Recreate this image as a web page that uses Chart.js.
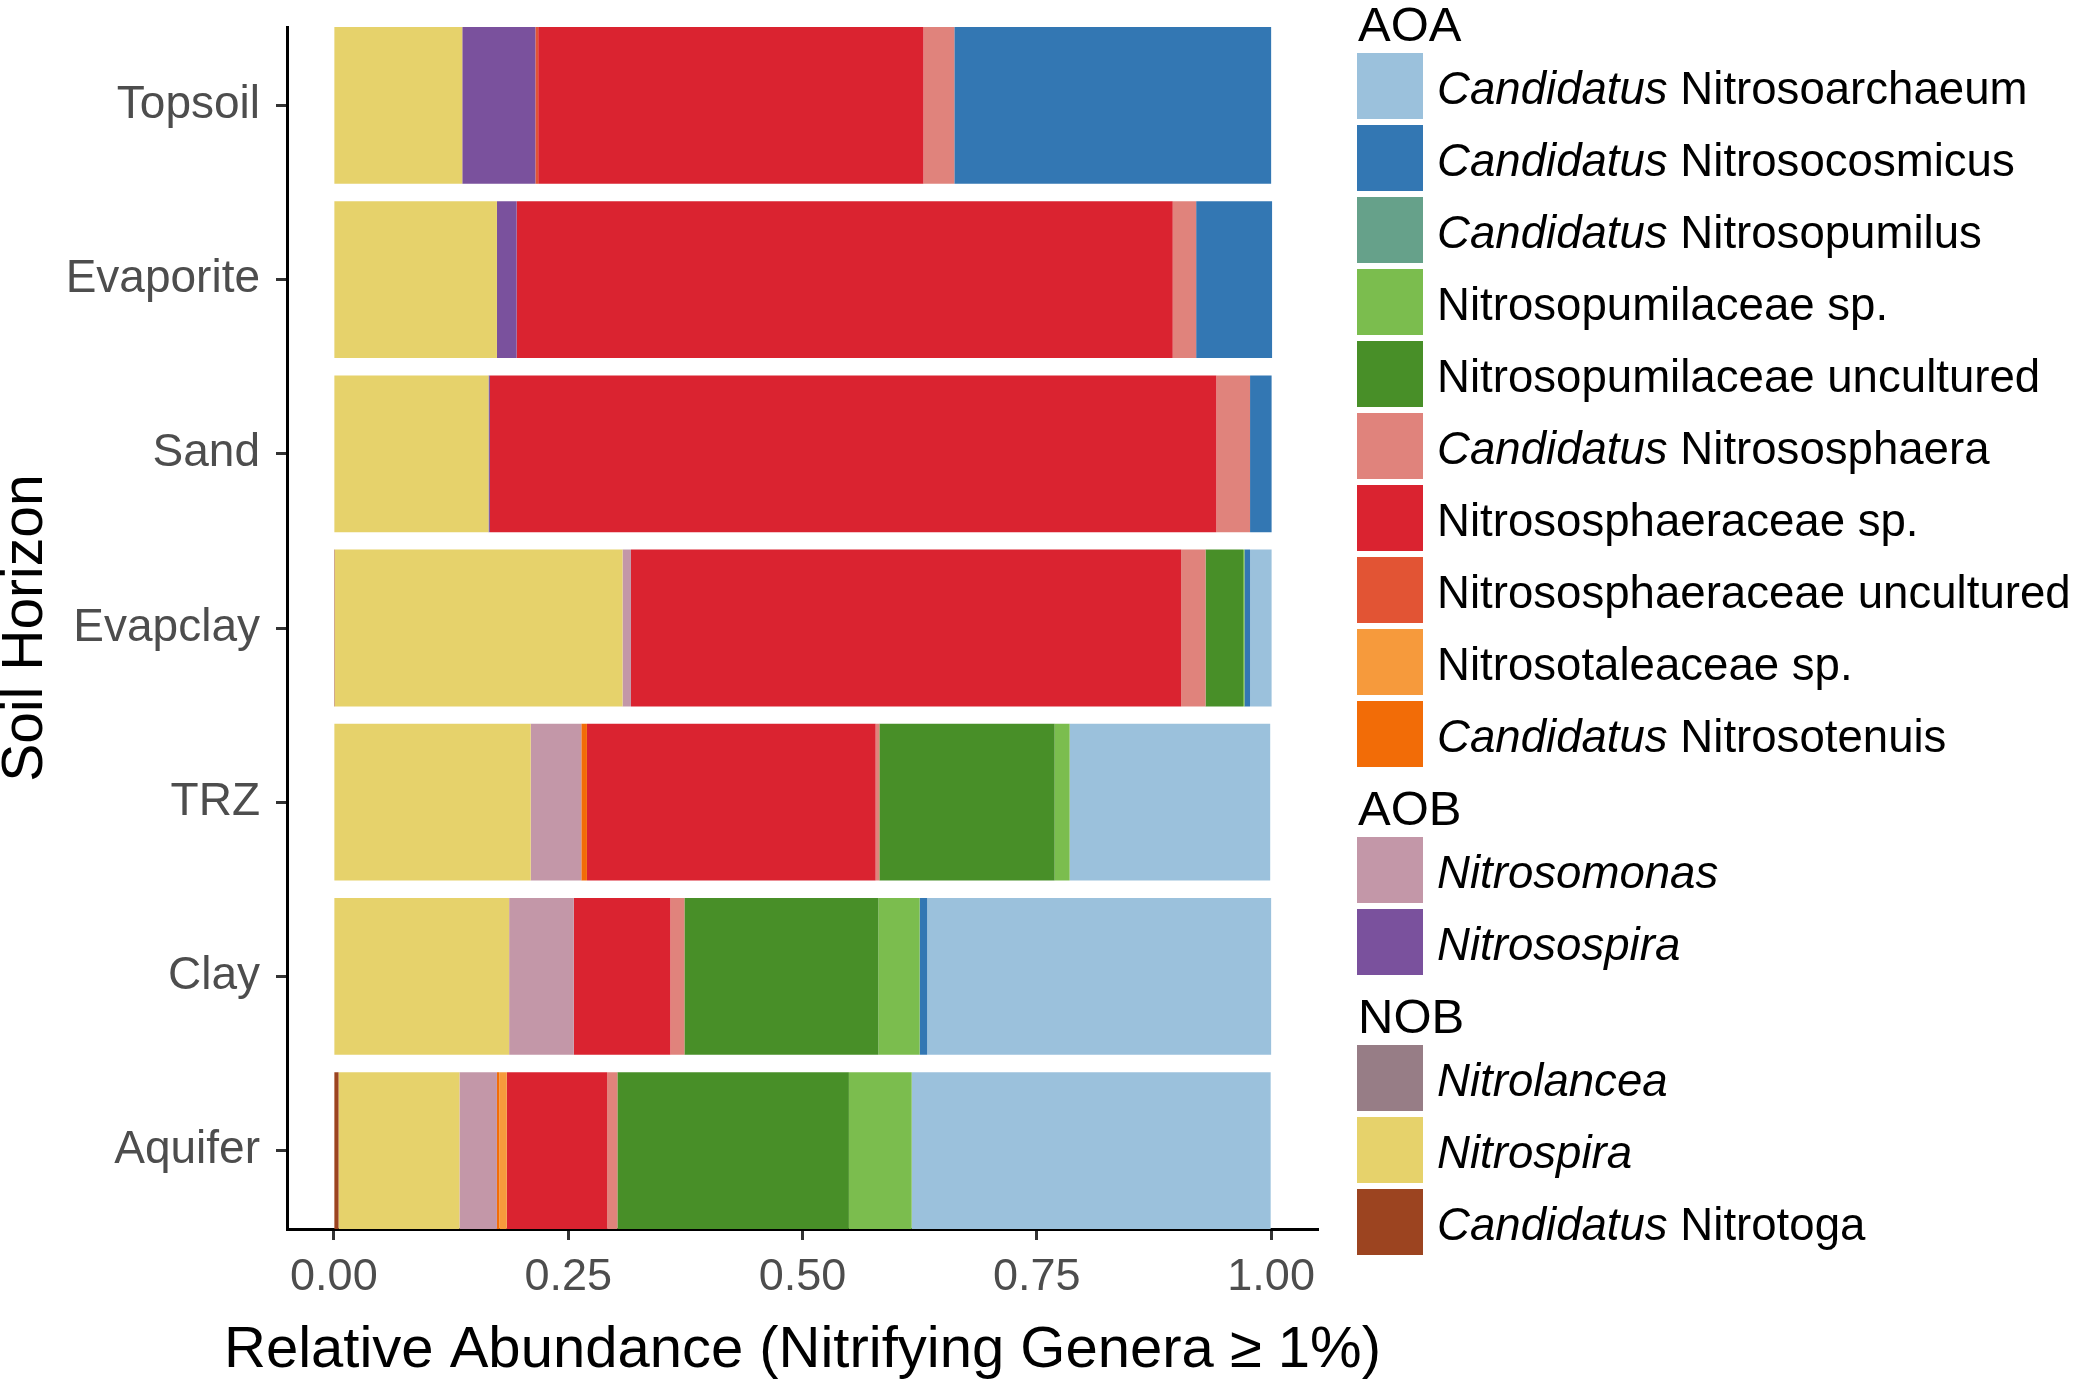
<!DOCTYPE html>
<html>
<head>
<meta charset="utf-8">
<script src="https://cdn.jsdelivr.net/npm/chart.js@4.4.1/dist/chart.umd.min.js"></script>
<style>
  html, body { margin: 0; padding: 0; background: #fff; }
  #wrap { position: relative; width: 2073px; height: 1384px; overflow: hidden; }
  #chart { position: absolute; left: 0; top: 0; }
  #legend { position: absolute; left: 0; top: 0; font-family: 'Liberation Sans', Arial, sans-serif; color: #000; }
  .lg-title { position: absolute; left: 1358px; font-size: 49px; line-height: 46px; }
  .lg-key { position: absolute; left: 1357px; width: 66px; height: 66px; }
  .lg-label { position: absolute; left: 1437px; height: 66px; line-height: 72px; font-size: 45.6px; white-space: nowrap; }
</style>
</head>
<body>
<div id="wrap">
  <canvas id="chart" width="2073" height="1384"></canvas>
  <div id="legend"></div>
</div>
<script>
const FONT = "'Liberation Sans', Arial, sans-serif"

const horizons = ['Topsoil', 'Evaporite', 'Sand', 'Evapclay', 'TRZ', 'Clay', 'Aquifer']

// genera in stacking order, left to right (legend shows them reversed)
const genera = [
  'Candidatus Nitrotoga', 'Nitrospira', 'Nitrolancea',
  'Nitrosospira', 'Nitrosomonas',
  'Candidatus Nitrosotenuis', 'Nitrosotaleaceae sp.', 'Nitrososphaeraceae uncultured',
  'Nitrososphaeraceae sp.', 'Candidatus Nitrososphaera', 'Nitrosopumilaceae uncultured',
  'Nitrosopumilaceae sp.', 'Candidatus Nitrosopumilus', 'Candidatus Nitrosocosmicus',
  'Candidatus Nitrosoarchaeum'
]
const generaGroup = ['NOB', 'NOB', 'NOB', 'AOB', 'AOB',
  'AOA', 'AOA', 'AOA', 'AOA', 'AOA', 'AOA', 'AOA', 'AOA', 'AOA', 'AOA']
const groupOrder = ['AOA', 'AOB', 'NOB']

const generaColors = [
  '#9c4420', '#e6d26b', '#977d86',
  '#7a519d', '#c397a8',
  '#f26c07', '#f69a3c', '#e25434',
  '#da2330', '#e0837c', '#488f28',
  '#7bbd4e', '#66a18a', '#3377b3',
  '#9bc1dc'
]

// relative abundance per horizon (Topsoil ... Aquifer)
const nitrotoga            = [0, 0, 0, 0.001, 0, 0, 0.005]
const nitrospira           = [0.137, 0.174, 0.165, 0.307, 0.210, 0.187, 0.129]
const nitrolancea          = [0, 0, 0, 0, 0, 0, 0]
const nitrosospira         = [0.078, 0.021, 0.0015, 0, 0, 0, 0]
const nitrosomonas         = [0, 0, 0, 0.009, 0.054, 0.069, 0.040]
const nitrosotenuis        = [0, 0, 0, 0, 0.006, 0, 0.0025]
const nitrosotaleaceaeSp   = [0, 0, 0, 0, 0, 0, 0.008]
const nitrososphUncult     = [0.003, 0, 0, 0, 0, 0, 0]
const nitrososphSp         = [0.411, 0.700, 0.775, 0.587, 0.308, 0.103, 0.107]
const nitrososphaera       = [0.033, 0.025, 0.036, 0.026, 0.004, 0.015, 0.011]
const nitrosopumUncult     = [0, 0, 0, 0.040, 0.187, 0.207, 0.247]
const nitrosopumSp         = [0, 0, 0, 0.0015, 0.016, 0.044, 0.067]
const nitrosopumilus       = [0, 0, 0, 0, 0, 0, 0]
const nitrosocosmicus      = [0.338, 0.081, 0.023, 0.006, 0, 0.008, 0]
const nitrosoarchaeum      = [0, 0, 0, 0.023, 0.214, 0.367, 0.383]

const seriesValues = [
  nitrotoga, nitrospira, nitrolancea, nitrosospira, nitrosomonas,
  nitrosotenuis, nitrosotaleaceaeSp, nitrososphUncult, nitrososphSp, nitrososphaera,
  nitrosopumUncult, nitrosopumSp, nitrosopumilus, nitrosocosmicus, nitrosoarchaeum
]

const xTicks = [0, 0.25, 0.5, 0.75, 1]
const xTitle = 'Relative Abundance (Nitrifying Genera ≥ 1%)'

// category axis without the half-band padding: bars touch the panel edges
class TightCategoryScale extends Chart.CategoryScale {
  configure() {
    super.configure()
    this._startValue = this.min - 0.45
    this._valueRange = this.max - this.min + 0.9
  }
}
TightCategoryScale.id = 'tightCategory'
TightCategoryScale.defaults = Chart.CategoryScale.defaults
Chart.register(TightCategoryScale)

// the built-in axis title gets squeezed to the axis width, this one may run wider
const xTitlePlugin = {
  id: 'xTitle',
  afterDraw: chart => {
    const { ctx, chartArea, scales } = chart
    ctx.save()
    ctx.font = '58px ' + FONT
    ctx.fillStyle = '#000'
    ctx.textAlign = 'center'
    ctx.textBaseline = 'alphabetic'
    ctx.fillText(xTitle, (chartArea.left + chartArea.right) / 2, scales.x.bottom - 17)
    ctx.restore()
  }
}

const ctx = document.getElementById('chart').getContext('2d')

new Chart(ctx, {
  type: 'bar',
  data: {
    labels: horizons,
    datasets: genera.map((name, i) => ({
      label: name,
      data: seriesValues[i],
      backgroundColor: generaColors[i],
      borderWidth: 0,
      barPercentage: 0.9,
      categoryPercentage: 1
    }))
  },
  plugins: [xTitlePlugin],
  options: {
    indexAxis: 'y',
    responsive: false,
    animation: false,
    devicePixelRatio: 1,
    layout: { padding: { left: 0, top: 27, right: 755, bottom: 0 } },
    plugins: {
      legend: { display: false },
      tooltip: { enabled: false }
    },
    scales: {
      x: {
        type: 'linear',
        stacked: true,
        min: -0.05,
        max: 1.05,
        border: { color: '#000', width: 3 },
        grid: { drawOnChartArea: false, tickLength: 11, tickWidth: 3, tickColor: '#333' },
        afterBuildTicks: scale => { scale.ticks = xTicks.map(v => ({ value: v })) },
        ticks: {
          padding: 11,
          color: '#4d4d4d',
          maxRotation: 0,
          autoSkip: false,
          font: { family: FONT, size: 45 },
          callback: v => Number(v).toFixed(2)
        },
        title: { display: false },
        afterFit: scale => {
          scale.height = 155
          scale.paddingLeft = 0
          scale.paddingRight = 0
        }
      },
      y: {
        type: 'tightCategory',
        stacked: true,
        offset: true,
        border: { color: '#000', width: 3 },
        grid: { offset: false, drawOnChartArea: false, tickLength: 11, tickWidth: 3, tickColor: '#333' },
        ticks: {
          padding: 16,
          color: '#4d4d4d',
          font: { family: FONT, size: 46 }
        },
        title: {
          display: true,
          text: 'Soil Horizon',
          color: '#000',
          font: { family: FONT, size: 57, lineHeight: 0.92 },
          padding: 0
        },
        afterFit: scale => {
          scale.width = 287
          scale.paddingTop = 0
          scale.paddingBottom = 0
        }
      }
    }
  }
})

// legend, grouped like the original, in reverse stacking order
const legend = document.getElementById('legend')
let y = 1
groupOrder.forEach(group => {
  const title = document.createElement('div')
  title.className = 'lg-title'
  title.style.top = y + 'px'
  title.textContent = group
  legend.appendChild(title)
  y += 52
  for (let i = genera.length - 1; i >= 0; i--) {
    if (generaGroup[i] !== group) continue
    const key = document.createElement('div')
    key.className = 'lg-key'
    key.style.top = y + 'px'
    key.style.background = generaColors[i]
    legend.appendChild(key)

    const label = document.createElement('div')
    label.className = 'lg-label'
    label.style.top = y + 'px'
    const name = genera[i]
    if (name.startsWith('Candidatus ')) {
      label.innerHTML = '<i>Candidatus</i> ' + name.slice(11)
    } else if (group !== 'AOA') {
      label.innerHTML = '<i>' + name + '</i>'
    } else {
      label.textContent = name
    }
    legend.appendChild(label)
    y += 72
  }
  y += 12
})
</script>
</body>
</html>
